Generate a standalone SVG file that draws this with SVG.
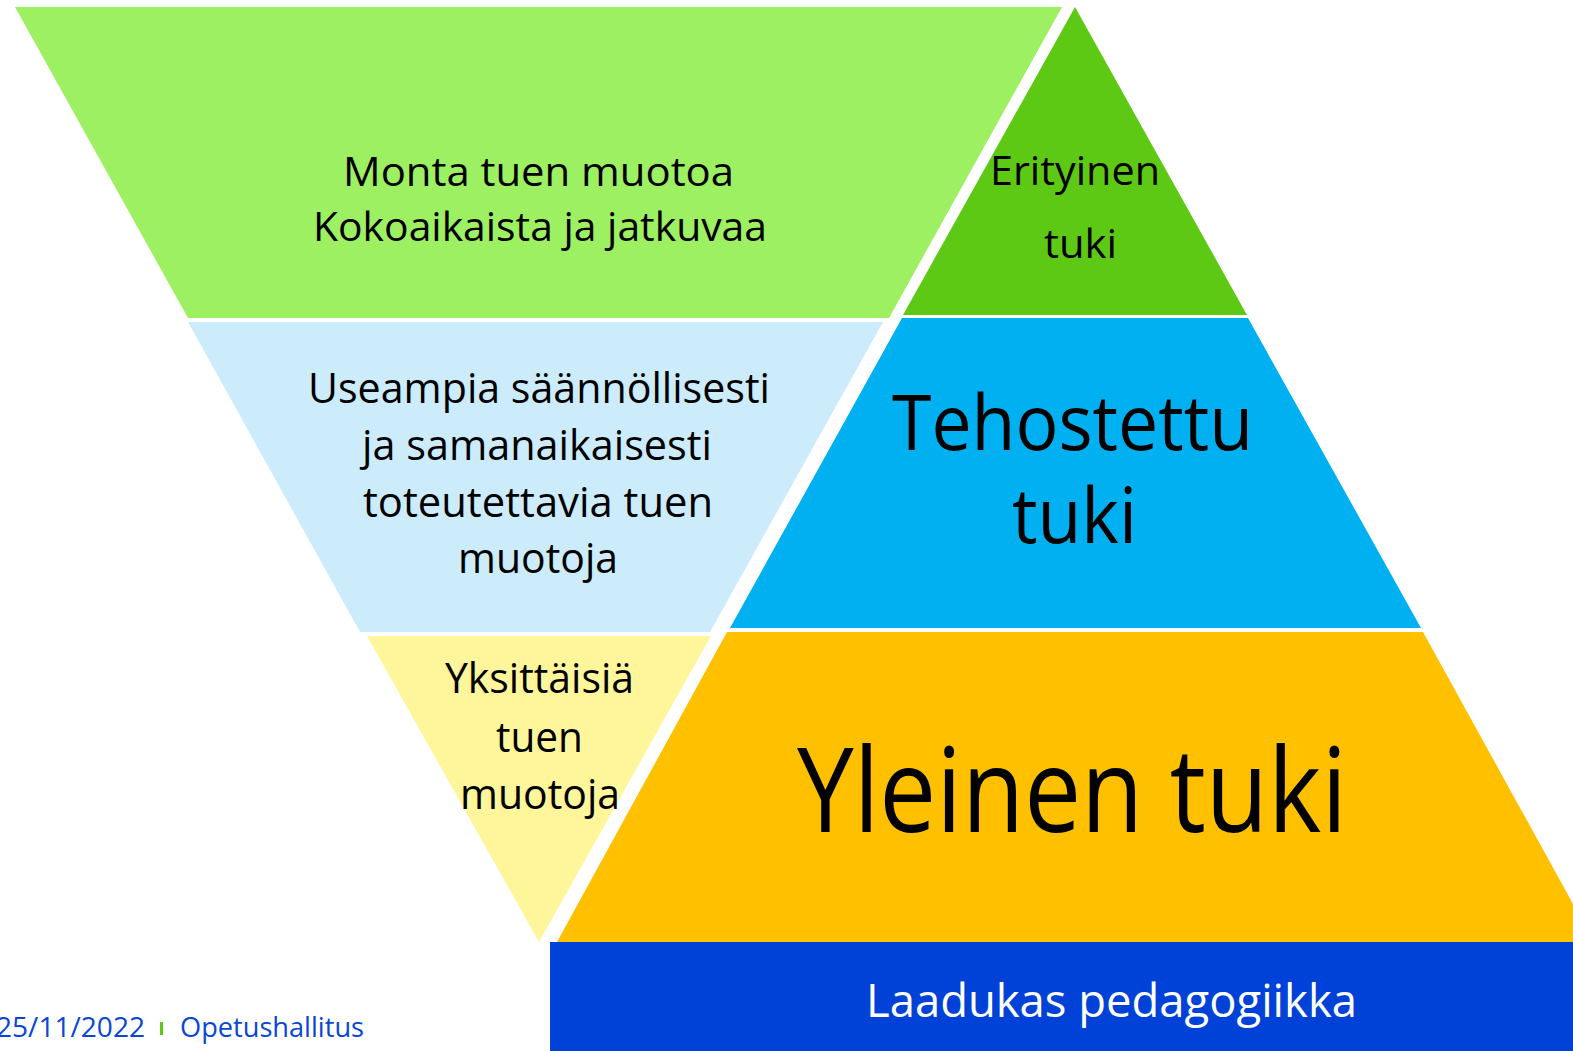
<svg xmlns="http://www.w3.org/2000/svg" width="1573" height="1051" viewBox="0 0 1573 1051">
  <style>
    .t { font-family: "Open Sans", "Noto Sans", "Liberation Sans", sans-serif; fill: #000; text-anchor: middle; }
    .m { font-size: 41px; }
    .w { fill: #fff; }
    .f { font-family: "Open Sans", "Noto Sans", "Liberation Sans", sans-serif; font-size: 28px; fill: #0A46D6; }
  </style>
  <rect width="1573" height="1051" fill="#fff"/>

  <g id="monta-tuen-muotoa">
    <polygon points="15,7 1062,7 889,318 188,318" fill="#9DF061"/>
    <text class="t m" x="538.5" y="186" textLength="391" lengthAdjust="spacingAndGlyphs">Monta tuen muotoa</text>
    <text class="t m" x="540" y="241" textLength="454" lengthAdjust="spacingAndGlyphs">Kokoaikaista ja jatkuvaa</text>
  </g>

  <g id="erityinen-tuki">
    <polygon points="1075,7 1247,315 903,315" fill="#5DC914"/>
    <text class="t m" x="1075" y="185" textLength="170" lengthAdjust="spacingAndGlyphs">Erityinen</text>
    <text class="t m" x="1080.5" y="258" textLength="73" lengthAdjust="spacingAndGlyphs">tuki</text>
  </g>

  <g id="useampia">
    <polygon points="188,322 883,322 710,632 360,632" fill="#CCECFC"/>
    <text class="t" font-size="42" x="539" y="403" textLength="462" lengthAdjust="spacingAndGlyphs">Useampia säännöllisesti</text>
    <text class="t" font-size="42" x="537" y="460" textLength="350" lengthAdjust="spacingAndGlyphs">ja samanaikaisesti</text>
    <text class="t" font-size="42" x="538" y="517" textLength="350" lengthAdjust="spacingAndGlyphs">toteutettavia tuen</text>
    <text class="t" font-size="42" x="538" y="573" textLength="160" lengthAdjust="spacingAndGlyphs">muotoja</text>
  </g>

  <g id="tehostettu-tuki">
    <polygon points="902,318 1248,318 1421,628 730,628" fill="#00B0F0"/>
    <text class="t" font-size="77" x="1072.5" y="450" textLength="361" lengthAdjust="spacingAndGlyphs">Tehostettu</text>
    <text class="t" font-size="77" x="1074.5" y="543" textLength="125" lengthAdjust="spacingAndGlyphs">tuki</text>
  </g>

  <g id="yksittaisia">
    <polygon points="367,636 711,636 539,942" fill="#FFF59B"/>
    <text class="t" font-size="42" x="539.5" y="693" textLength="189" lengthAdjust="spacingAndGlyphs">Yksittäisiä</text>
    <text class="t" font-size="42" x="539.5" y="752" textLength="87" lengthAdjust="spacingAndGlyphs">tuen</text>
    <text class="t" font-size="42" x="540" y="809" textLength="160" lengthAdjust="spacingAndGlyphs">muotoja</text>
  </g>

  <g id="yleinen-tuki">
    <polygon points="727,632 1423,632 1594,942 557,942" fill="#FFC000"/>
    <text class="t" font-size="117" x="1072" y="832" textLength="550" lengthAdjust="spacingAndGlyphs">Yleinen tuki</text>
  </g>

  <g id="laadukas-pedagogiikka">
    <rect x="550" y="942" width="1023" height="109" fill="#0042D8"/>
    <text class="t w" font-size="46" x="1111.5" y="1017" textLength="491" lengthAdjust="spacingAndGlyphs">Laadukas pedagogiikka</text>
  </g>

  <g id="footer">
    <text class="f" x="-4" y="1037" textLength="149" lengthAdjust="spacingAndGlyphs">25/11/2022</text>
    <rect x="160" y="1022" width="3" height="13" fill="#5DC914"/>
    <text class="f" x="180" y="1037" textLength="184" lengthAdjust="spacingAndGlyphs">Opetushallitus</text>
  </g>
</svg>
